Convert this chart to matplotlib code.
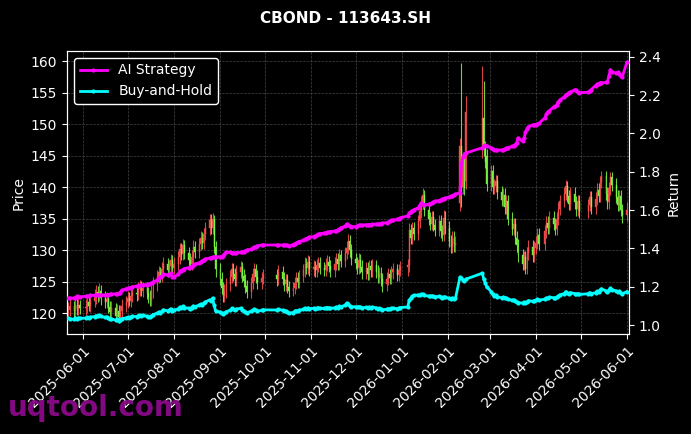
import numpy as np
import pandas as pd
import matplotlib
matplotlib.use("Agg")
import matplotlib.pyplot as plt
import matplotlib.dates as mdates

title = "CBOND - 113643.SH"
series_names = ["AI Strategy", "Buy-and-Hold"]
start_date = "2025-05-22"
end_date = "2026-06-01"
holidays = ["2025-06-02", "2025-10-01", "2025-10-02", "2025-10-03", "2025-10-06",
            "2025-10-07", "2025-10-08", "2026-01-01", "2026-01-02", "2026-02-16",
            "2026-02-17", "2026-02-18", "2026-02-19", "2026-02-20", "2026-02-23",
            "2026-04-06", "2026-05-01", "2026-05-04", "2026-05-05"]

close = [
 120.6, 121.2, 120.3, 121.4, 120.7, 121.3, 120.8,
 121.0, 121.8, 121.2, 122.0, 122.6, 123.4, 122.8, 123.6, 122.5, 121.8, 122.3, 121.0, 120.2, 120.8, 119.6, 120.4, 119.5, 120.3, 121.2, 121.8,
 122.4, 122.0, 122.8, 123.3, 123.0, 123.8, 124.3, 123.6, 124.0, 123.2, 122.6, 122.1, 123.5, 124.6, 125.8, 126.5, 125.9, 127.0, 127.8, 126.8, 127.5, 128.4, 127.2,
 127.8, 128.9, 130.2, 129.4, 130.8, 129.6, 128.5, 127.9, 129.0, 130.5, 129.8, 131.0, 132.0, 131.2, 132.6, 133.5, 134.8, 133.6, 135.0, 130.5, 127.0,
 125.5, 124.0, 122.8, 123.5, 124.6, 125.8, 127.0, 126.2, 125.4, 126.6, 127.3, 126.0, 125.2, 124.3, 123.4, 124.8, 126.2, 127.0, 125.8, 124.9, 125.6, 126.1,
 125.4, 126.6, 125.5, 124.6, 125.3, 124.2, 123.6, 124.0, 124.8, 125.6, 125.0, 125.9, 126.8, 127.9, 127.2, 128.2, 127.0,
 127.4, 126.8, 127.6, 128.0, 127.2, 126.9, 127.7, 128.2, 127.5, 126.8, 127.9, 128.6, 127.8, 129.2, 128.3, 129.6, 130.4, 131.5, 130.0, 128.6,
 128.0, 127.2, 128.5, 127.4, 126.5, 127.2, 126.3, 127.5, 126.8, 127.6, 126.6, 125.8, 126.4, 125.4, 124.6, 125.5, 126.2, 125.6, 126.5, 127.0, 126.1, 126.9, 127.3,
 127.6, 133.2, 132.0, 133.5, 132.6, 134.6, 136.2, 137.6, 138.8, 136.4, 135.0, 134.2, 135.3, 134.0, 133.2, 134.6, 133.0, 132.4, 135.2, 133.6,
 131.5, 130.6, 132.0, 130.8, 131.2, 146.5, 140.0, 144.5, 139.8, 152.0, 151.0, 146.3, 144.0, 140.5,
 142.5, 140.0, 140.2, 141.0, 139.2, 138.0, 138.8, 136.8, 137.8, 135.0, 133.4, 134.2, 132.0, 130.8, 129.2, 127.8, 128.9, 127.0, 129.5, 130.6, 129.2, 130.4,
 131.2, 132.5, 131.0, 133.0, 134.4, 133.6, 135.2, 134.2, 133.4, 135.0, 136.6, 137.8, 139.0, 140.2, 138.6, 137.4, 139.0, 137.6, 136.5, 137.8, 136.2,
 137.2, 138.4, 136.8, 138.2, 139.6, 138.6, 140.8, 141.8, 139.0, 137.6, 139.8, 141.6, 140.4, 138.5, 137.2, 138.6, 136.4, 135.6,
 136.4]

open_ = [
 120.2, 120.6, 121.2, 120.3, 121.4, 120.7, 121.3,
 120.8, 121.0, 121.8, 121.2, 122.0, 122.6, 123.4, 122.8, 123.6, 122.5, 121.8, 122.3, 121.0, 120.2, 120.8, 119.6, 120.4, 119.5, 120.3, 121.2,
 121.8, 122.4, 122.0, 122.8, 123.3, 123.0, 123.8, 124.3, 123.6, 124.0, 123.2, 122.6, 122.1, 123.5, 124.6, 125.8, 126.5, 125.9, 127.0, 127.8, 126.8, 127.5, 128.4,
 127.2, 127.8, 128.9, 130.2, 129.4, 130.8, 129.6, 128.5, 127.9, 129.0, 130.5, 129.8, 131.0, 132.0, 131.2, 132.6, 133.5, 134.8, 133.6, 135.0, 130.5,
 127.0, 125.5, 124.0, 122.8, 123.5, 124.6, 125.8, 127.0, 126.2, 125.4, 126.6, 127.3, 126.0, 125.2, 124.3, 123.4, 124.8, 126.2, 127.0, 125.8, 124.9, 125.6,
 126.1, 125.4, 126.6, 125.5, 124.6, 125.3, 124.2, 123.6, 124.0, 124.8, 125.6, 125.0, 125.9, 126.8, 127.9, 127.2, 128.2,
 127.0, 127.4, 126.8, 127.6, 128.0, 127.2, 126.9, 127.7, 128.2, 127.5, 126.8, 127.9, 128.6, 127.8, 129.2, 128.3, 129.6, 130.4, 131.5, 130.0,
 128.6, 128.0, 127.2, 128.5, 127.4, 126.5, 127.2, 126.3, 127.5, 126.8, 127.6, 126.6, 125.8, 126.4, 125.4, 124.6, 125.5, 126.2, 125.6, 126.5, 127.0, 126.1, 126.9,
 127.3, 127.6, 133.2, 132.0, 133.5, 132.6, 134.6, 136.2, 137.6, 138.8, 136.4, 135.0, 134.2, 135.3, 134.0, 133.2, 134.6, 133.0, 132.4, 135.2,
 133.6, 131.5, 130.6, 132.0, 130.8, 137.5, 146.5, 140.0, 144.5, 141.0, 146.5, 151.0, 146.3, 145.0,
 140.5, 142.5, 140.0, 140.2, 141.0, 139.2, 138.0, 138.8, 136.8, 137.8, 135.0, 133.4, 134.2, 132.0, 130.8, 129.2, 127.8, 128.9, 127.0, 129.5, 130.6, 129.2,
 130.4, 131.2, 132.5, 131.0, 133.0, 134.4, 133.6, 135.2, 134.2, 133.4, 135.0, 136.6, 137.8, 139.0, 140.2, 138.6, 137.4, 139.0, 137.6, 136.5, 137.8,
 136.2, 137.2, 138.4, 136.8, 138.2, 139.6, 138.6, 140.8, 141.8, 139.0, 137.6, 139.8, 141.6, 140.4, 138.5, 137.2, 138.6, 136.4,
 135.6]

high = [
 121.8, 122.3, 122.0, 122.6, 122.3, 122.4, 122.1,
 122.2, 122.9, 122.7, 123.2, 123.8, 124.5, 124.3, 124.8, 124.5, 123.5, 123.4, 123.3, 122.0, 121.9, 121.7, 121.5, 121.3, 121.4, 122.3, 122.8,
 123.5, 123.4, 123.8, 124.4, 124.2, 124.9, 125.3, 125.2, 125.0, 125.0, 124.2, 123.7, 124.6, 125.7, 126.9, 127.5, 127.4, 128.1, 128.9, 128.7, 128.5, 129.4, 129.3,
 128.9, 129.9, 131.2, 131.1, 131.8, 131.7, 130.6, 129.5, 130.1, 131.6, 131.4, 132.0, 133.0, 132.9, 133.6, 134.5, 135.8, 135.7, 135.9, 135.6, 131.5,
 128.0, 126.5, 125.0, 124.6, 125.6, 126.8, 128.0, 128.0, 127.2, 127.6, 128.3, 128.2, 127.0, 126.2, 125.3, 125.8, 127.2, 128.0, 127.9, 126.8, 126.6, 127.1,
 127.1, 127.6, 127.5, 126.5, 126.3, 126.2, 125.2, 125.0, 125.8, 126.6, 126.5, 126.9, 127.8, 128.9, 128.8, 129.2, 129.1,
 128.4, 128.3, 128.6, 129.0, 128.9, 128.2, 128.7, 129.2, 129.1, 128.5, 128.9, 129.6, 129.5, 130.2, 130.1, 130.6, 131.4, 132.6, 132.4, 131.0,
 129.6, 129.0, 129.5, 129.4, 128.4, 128.2, 128.1, 128.5, 128.4, 128.6, 128.5, 127.6, 127.4, 127.3, 126.4, 126.5, 127.2, 127.1, 127.5, 128.0, 127.9, 127.9, 128.3,
 128.6, 134.4, 134.2, 134.5, 134.5, 135.6, 137.2, 138.6, 139.8, 139.6, 137.4, 136.0, 136.3, 136.3, 135.0, 135.6, 135.6, 134.0, 136.4, 136.2,
 134.6, 132.5, 133.0, 133.0, 132.2, 147.8, 159.7, 145.6, 145.6, 154.5, 159.2, 156.8, 147.4, 146.1,
 143.6, 143.5, 141.3, 142.0, 142.0, 140.2, 139.8, 139.8, 138.8, 138.8, 136.0, 135.2, 135.2, 133.0, 131.8, 130.2, 129.9, 129.9, 130.5, 131.6, 131.6, 131.4,
 132.2, 133.5, 133.5, 134.0, 135.4, 135.4, 136.2, 136.2, 135.2, 136.0, 137.6, 138.8, 140.0, 141.2, 141.0, 139.6, 140.0, 140.0, 138.6, 138.8, 138.8,
 138.2, 139.4, 139.4, 139.2, 140.6, 140.6, 141.8, 142.6, 142.5, 140.0, 140.8, 142.4, 142.4, 141.4, 139.5, 139.6, 139.6, 137.4,
 137.6]

low = [
 119.2, 119.6, 119.4, 119.5, 119.8, 119.7, 119.9,
 119.7, 120.0, 120.3, 120.2, 121.0, 121.5, 121.8, 121.9, 121.4, 120.8, 120.8, 120.0, 119.2, 119.3, 118.7, 118.6, 118.5, 118.6, 119.3, 120.2,
 120.8, 121.1, 121.0, 121.8, 122.0, 122.1, 122.8, 122.7, 122.6, 122.2, 121.6, 121.1, 121.2, 122.5, 123.6, 124.8, 124.9, 124.9, 126.0, 125.8, 125.8, 126.5, 126.2,
 126.2, 126.8, 127.9, 128.4, 128.5, 128.6, 127.5, 126.9, 126.9, 128.0, 128.8, 128.8, 130.0, 130.2, 130.2, 131.6, 132.5, 132.6, 132.6, 129.5, 125.8,
 124.5, 123.0, 121.8, 121.8, 122.5, 123.6, 124.8, 125.2, 124.4, 124.4, 125.6, 125.0, 124.2, 123.3, 122.4, 122.4, 123.8, 125.2, 124.8, 123.9, 123.9, 124.6,
 124.4, 124.5, 124.5, 123.6, 123.6, 123.2, 122.6, 122.7, 123.0, 123.8, 124.0, 124.0, 124.9, 125.8, 126.2, 126.2, 126.0,
 126.0, 125.8, 125.8, 126.6, 126.2, 125.9, 125.9, 126.7, 126.5, 125.8, 125.8, 126.9, 126.8, 126.8, 127.3, 127.3, 128.6, 129.4, 129.0, 127.6,
 127.0, 126.2, 126.2, 126.4, 125.5, 125.5, 125.3, 125.3, 125.8, 125.8, 125.6, 124.8, 124.8, 124.4, 123.4, 123.6, 124.5, 124.6, 124.6, 125.5, 125.1, 125.1, 125.9,
 126.0, 126.6, 131.0, 131.0, 131.6, 131.6, 133.6, 135.2, 136.6, 135.4, 134.0, 133.2, 133.2, 133.0, 132.2, 132.2, 132.0, 131.4, 131.4, 132.6,
 130.5, 129.6, 129.6, 129.8, 129.8, 136.2, 136.8, 139.0, 138.7, 139.7, 144.7, 145.0, 143.0, 139.4,
 139.4, 139.0, 139.0, 139.2, 138.2, 137.0, 137.0, 135.8, 135.8, 134.0, 132.4, 132.4, 131.0, 129.8, 128.2, 126.8, 126.8, 126.2, 126.2, 128.5, 128.2, 128.2,
 129.4, 130.2, 130.0, 130.0, 132.0, 132.6, 132.6, 133.2, 132.4, 132.4, 134.0, 135.6, 136.8, 138.0, 137.6, 136.4, 136.4, 136.6, 135.5, 135.5, 135.2,
 135.2, 136.2, 135.8, 135.8, 137.2, 137.6, 137.6, 139.8, 138.0, 136.6, 136.6, 138.8, 139.4, 137.5, 136.2, 136.2, 135.4, 134.4,
 134.6]

ai_strategy = [
 1.141, 1.140, 1.142, 1.140, 1.152, 1.146, 1.148,
 1.150, 1.151, 1.152, 1.155, 1.156, 1.158, 1.157, 1.159, 1.158, 1.157, 1.158, 1.159, 1.160, 1.162, 1.163, 1.165, 1.166, 1.170, 1.182, 1.190,
 1.192, 1.193, 1.196, 1.200, 1.203, 1.206, 1.209, 1.208, 1.210, 1.212, 1.214, 1.215, 1.219, 1.225, 1.235, 1.245, 1.250, 1.258, 1.266, 1.262, 1.266, 1.272, 1.250,
 1.252, 1.265, 1.280, 1.285, 1.290, 1.295, 1.300, 1.303, 1.305, 1.312, 1.318, 1.325, 1.330, 1.335, 1.340, 1.345, 1.350, 1.352, 1.355, 1.356, 1.356,
 1.357, 1.358, 1.362, 1.370, 1.381, 1.380, 1.378, 1.376, 1.377, 1.378, 1.380, 1.382, 1.384, 1.388, 1.392, 1.396, 1.402, 1.407, 1.410, 1.414, 1.418, 1.418,
 1.418, 1.418, 1.418, 1.418, 1.419, 1.418, 1.412, 1.420, 1.424, 1.428, 1.432, 1.436, 1.442, 1.448, 1.452, 1.456, 1.460,
 1.462, 1.466, 1.470, 1.474, 1.478, 1.480, 1.482, 1.484, 1.486, 1.488, 1.490, 1.493, 1.496, 1.500, 1.508, 1.516, 1.528, 1.520, 1.516, 1.514,
 1.514, 1.518, 1.520, 1.522, 1.522, 1.523, 1.524, 1.524, 1.525, 1.526, 1.527, 1.528, 1.528, 1.530, 1.532, 1.535, 1.538, 1.542, 1.546, 1.548, 1.552, 1.556, 1.560,
 1.570, 1.585, 1.592, 1.598, 1.602, 1.612, 1.625, 1.637, 1.630, 1.627, 1.630, 1.634, 1.637, 1.642, 1.646, 1.650, 1.653, 1.656, 1.660, 1.663,
 1.668, 1.672, 1.676, 1.680, 1.684, 1.690, 1.846, 1.877, 1.890, 1.898, 1.925, 1.935, 1.940, 1.935,
 1.925, 1.918, 1.914, 1.912, 1.913, 1.914, 1.916, 1.918, 1.922, 1.926, 1.932, 1.936, 1.942, 1.950, 1.977, 1.958, 1.975, 2.005, 2.025, 2.035, 2.045, 2.045,
 2.046, 2.048, 2.052, 2.081, 2.100, 2.113, 2.118, 2.139, 2.142, 2.150, 2.165, 2.175, 2.190, 2.200, 2.205, 2.212, 2.215, 2.228, 2.225, 2.215, 2.212,
 2.215, 2.222, 2.228, 2.250, 2.256, 2.260, 2.264, 2.265, 2.266, 2.270, 2.300, 2.332, 2.320, 2.316, 2.318, 2.312, 2.300, 2.296,
 2.370]

buy_hold = [
 1.036, 1.034, 1.030, 1.035, 1.032, 1.038, 1.036,
 1.037, 1.040, 1.038, 1.042, 1.045, 1.050, 1.047, 1.052, 1.046, 1.040, 1.043, 1.036, 1.030, 1.033, 1.026, 1.030, 1.024, 1.028, 1.034, 1.038,
 1.040, 1.038, 1.043, 1.046, 1.045, 1.050, 1.053, 1.049, 1.051, 1.046, 1.043, 1.040, 1.048, 1.055, 1.063, 1.068, 1.065, 1.072, 1.080, 1.074, 1.078, 1.085, 1.076,
 1.078, 1.085, 1.094, 1.090, 1.098, 1.092, 1.088, 1.085, 1.092, 1.100, 1.097, 1.104, 1.110, 1.106, 1.114, 1.120, 1.132, 1.126, 1.141, 1.105, 1.075,
 1.068, 1.062, 1.058, 1.063, 1.070, 1.078, 1.088, 1.083, 1.078, 1.084, 1.088, 1.080, 1.075, 1.070, 1.066, 1.072, 1.078, 1.083, 1.078, 1.074, 1.077, 1.080,
 1.079, 1.082, 1.078, 1.073, 1.076, 1.068, 1.063, 1.066, 1.072, 1.076, 1.074, 1.078, 1.082, 1.088, 1.085, 1.090, 1.086,
 1.088, 1.086, 1.089, 1.091, 1.088, 1.087, 1.090, 1.092, 1.090, 1.087, 1.091, 1.094, 1.092, 1.098, 1.096, 1.104, 1.115, 1.108, 1.100, 1.096,
 1.096, 1.093, 1.097, 1.094, 1.090, 1.093, 1.090, 1.094, 1.092, 1.094, 1.090, 1.086, 1.088, 1.084, 1.080, 1.083, 1.086, 1.084, 1.087, 1.089, 1.086, 1.089, 1.092,
 1.095, 1.130, 1.140, 1.150, 1.155, 1.158, 1.156, 1.160, 1.162, 1.155, 1.152, 1.150, 1.153, 1.150, 1.148, 1.150, 1.146, 1.142, 1.148, 1.145,
 1.140, 1.136, 1.142, 1.138, 1.140, 1.250, 1.245, 1.235, 1.232, 1.240, 1.271, 1.240, 1.220, 1.200,
 1.175, 1.160, 1.152, 1.155, 1.148, 1.143, 1.146, 1.140, 1.142, 1.135, 1.130, 1.132, 1.126, 1.122, 1.118, 1.115, 1.120, 1.114, 1.122, 1.128, 1.124, 1.128,
 1.130, 1.134, 1.130, 1.136, 1.142, 1.140, 1.146, 1.143, 1.140, 1.146, 1.152, 1.158, 1.165, 1.175, 1.168, 1.163, 1.170, 1.165, 1.160, 1.165, 1.160,
 1.164, 1.170, 1.163, 1.170, 1.176, 1.172, 1.182, 1.190, 1.178, 1.172, 1.182, 1.192, 1.186, 1.178, 1.172, 1.178, 1.168, 1.164,
 1.175]

# ---- dates (trading days) ----
all_days = pd.bdate_range(start_date, end_date)
dates = all_days[~all_days.isin(pd.to_datetime(holidays))]
n = len(dates)
for nm, arr in [("close", close), ("open", open_), ("high", high), ("low", low),
                ("ai", ai_strategy), ("bh", buy_hold)]:
    if len(arr) != n:
        raise ValueError(f"{nm} has {len(arr)} values, dates {n}")

o = np.array(open_); c = np.array(close); h = np.array(high); l = np.array(low)
up = c >= o
up_color = "#ff4f4f"
down_color = "#7dff45"
colors = np.where(up, up_color, down_color)

fig = plt.figure(figsize=(6.91, 4.34), dpi=100, facecolor="black")
ax = fig.add_axes([0.097, 0.230, 0.813, 0.6525])
ax.set_facecolor("black")

xd = mdates.date2num(dates)
ax.vlines(xd, l, h, colors=colors, linewidth=0.8, alpha=0.85, zorder=2)
ax.bar(xd, np.maximum(np.abs(c - o), 0.15), bottom=np.minimum(o, c), width=0.6,
       color=colors, edgecolor=colors, linewidth=0.3, alpha=0.9, zorder=3)

ax.set_xlim(mdates.date2num(pd.Timestamp("2025-05-21 08:00")),
            mdates.date2num(pd.Timestamp("2026-06-02 08:00")))
ax.set_ylim(116.7, 161.6)
ax.set_yticks(np.arange(120, 161, 5))
ax.xaxis.set_major_locator(mdates.MonthLocator(bymonthday=1))
ax.xaxis.set_major_formatter(mdates.DateFormatter("%Y-%m-%d"))
plt.setp(ax.get_xticklabels(), rotation=45, ha="right", rotation_mode="anchor")
ax.grid(True, color="#555555", linestyle="--", linewidth=0.5, alpha=0.8)
ax.set_ylabel("Price", color="white", fontsize=10)

ax2 = ax.twinx()
ax2.plot(dates, ai_strategy, color="#ff00ff", linewidth=2, marker="o", markersize=2,
         label=series_names[0], zorder=5)
ax2.plot(dates, buy_hold, color="#00ffff", linewidth=2, marker="o", markersize=2,
         label=series_names[1], zorder=5)
ax2.set_ylim(0.953, 2.43)
ax2.set_yticks(np.arange(1.0, 2.41, 0.2))
ax2.set_ylabel("Return", color="white", fontsize=10)

for a in (ax, ax2):
    a.tick_params(colors="white", labelsize=10)
    for sp in a.spines.values():
        sp.set_color("white")

leg = ax2.legend(loc="upper left", facecolor="black", edgecolor="white",
                 fontsize=10, framealpha=1.0)
for t in leg.get_texts():
    t.set_color("white")

fig.text(0.5, 0.958, title, color="white", fontsize=11, fontweight="bold",
         ha="center", va="center")
fig.text(0.012, 0.06, "uqtool.com", color="#8a0a8a", fontsize=20,
         fontweight="bold", ha="left", va="center", alpha=0.95)

fig.savefig("out.png", dpi=100, facecolor="black")
